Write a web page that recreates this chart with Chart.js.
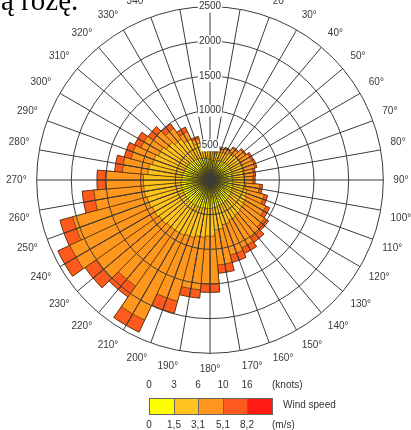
<!DOCTYPE html>
<html><head><meta charset="utf-8">
<script src="https://cdn.jsdelivr.net/npm/chart.js@4.4.0/dist/chart.umd.min.js"></script>
<style>
html,body{margin:0;padding:0;background:#fff;overflow:hidden;width:411px;height:430px;position:relative;font-family:'Liberation Sans',Arial,sans-serif;}
#wrap{position:absolute;left:5px;top:-30px;width:409px;height:420px;}
#title{position:absolute;left:1px;top:-14px;font:29px/29px 'Liberation Serif',serif;color:#000;white-space:nowrap;}
.lab{position:absolute;font-size:10px;color:#333;line-height:12px;white-space:nowrap;}
.c{transform:translateX(-50%);}
.box{position:absolute;top:398px;height:17px;box-sizing:border-box;border:1px solid #666;}
</style></head><body>
<div id="wrap"><canvas id="c"></canvas></div>
<div id="title">ą różę.</div>
<div id="legend"></div>
<script>
// directions (degrees)
const directions = [0,10,20,30,40,50,60,70,80,90,100,110,120,130,140,150,160,170,180,190,200,210,220,230,240,250,260,270,280,290,300,310,320,330,340,350];
// counts per wind-speed class for each direction
const speed0_15  = [300,280,300,310,320,330,330,330,320,320,330,340,350,360,370,380,390,400,410,410,420,420,420,420,420,420,420,410,400,390,380,370,360,350,330,310];
const speed15_31 = [110,100,120,130,150,170,180,180,170,170,190,210,230,240,250,260,280,320,400,420,440,460,460,480,500,520,540,550,500,470,440,400,360,300,220,150];
const speed31_51 = [40,30,50,70,90,120,150,160,140,130,200,260,310,360,400,440,450,510,690,760,950,1350,990,1110,1310,1110,720,550,370,320,280,230,190,120,70,50];
const speed51_82 = [10,10,10,10,20,20,30,30,30,30,40,50,60,70,80,90,110,120,120,120,180,190,190,190,190,190,170,120,110,100,100,90,80,70,30,10];
const speed82up  = [0,0,0,0,0,0,0,0,0,0,0,0,0,0,0,0,0,0,0,0,0,0,0,0,0,0,0,0,0,0,0,0,0,0,0,0];
const classColors = ['#FFFF00','#FFC21E','#FF961E','#FF5A1E','#FF1A14'];
const knotsLabels = ['0','3','6','10','16'];
const msLabels = ['0','1,5','3,1','5,1','8,2'];
const radialMax = 2500, radialStep = 500;

const series = [speed0_15, speed15_31, speed31_51, speed51_82, speed82up];
const N = directions.length;
const cum = [];
let run = new Array(N).fill(0);
series.forEach(s => { run = run.map((v,i)=>v+s[i]); cum.push(run.slice()); });
// each direction sector (centred on its spoke) = two half-sectors
function expand(arr){
  const out = new Array(2*N);
  for (let d=0; d<N; d++){ out[2*d]=arr[d]; out[(2*d-1+2*N)%(2*N)]=arr[d]; }
  return out;
}
const labels = [];
for (let k=0;k<2*N;k++) labels.push(k%2===0 ? directions[k/2]+'°' : '');

const font = {family:"'Liberation Sans', Arial, sans-serif", size:10};
new Chart(document.getElementById('c'), {
  type:'polarArea',
  data:{labels, datasets: cum.map((arr,i)=>({
    label:'class'+i, data:expand(arr), backgroundColor:classColors[i],
    borderColor:'rgba(50,35,0,0.85)', borderWidth:0.7
  }))},
  options:{
    responsive:true, maintainAspectRatio:false, animation:false,
    plugins:{legend:{display:false}, tooltip:{enabled:false}},
    scales:{r:{
      min:0, max:radialMax, startAngle:0,
      ticks:{stepSize:radialStep, font, color:'#333', backdropColor:'#fff', backdropPadding:{x:1,y:1}, z:1,
        callback:(v)=>String(v)},
      grid:{circular:true, color:'#3c3c3c', lineWidth:1, z:1},
      angleLines:{display:true, color:'#3c3c3c', lineWidth:(c)=> c.index%2===0 ? 1 : 0},
      pointLabels:{display:true, font, color:'#3a3a3a', padding:4}
    }}
  }
});

// colour legend
const lg = document.getElementById('legend');
const edges = [149,174,198,223,247,272];
let html = '';
knotsLabels.forEach((t,i)=>{ html += `<div class="lab c" style="left:${edges[i]}px;top:379px">${t}</div>`; });
html += `<div class="lab" style="left:272px;top:379px">(knots)</div>`;
classColors.forEach((col,i)=>{ html += `<div class="box" style="left:${edges[i]}px;width:${edges[i+1]-edges[i]+1}px;background:${col}"></div>`; });
html += `<div class="lab" style="left:283px;top:399px">Wind speed</div>`;
msLabels.forEach((t,i)=>{ html += `<div class="lab c" style="left:${edges[i]}px;top:419px">${t}</div>`; });
html += `<div class="lab" style="left:272px;top:419px">(m/s)</div>`;
lg.innerHTML = html;
</script>
</body></html>
